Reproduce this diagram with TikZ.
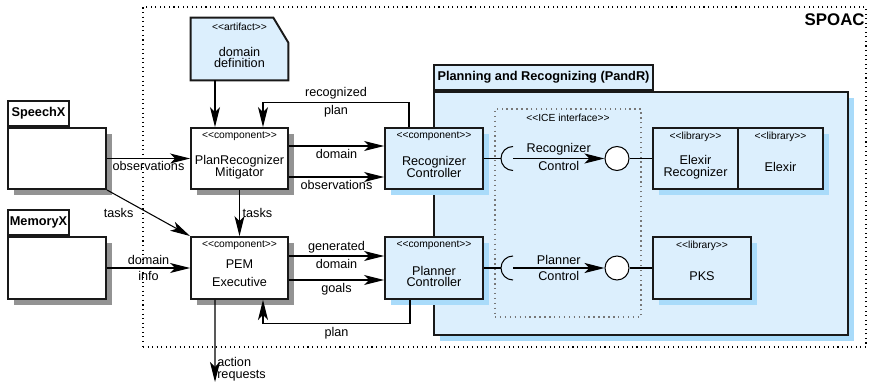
\documentclass[tikz,border=0pt]{standalone}
\usepackage{fontspec}
\setmainfont{Liberation Sans}
\usepackage{tikz}
\usetikzlibrary{arrows.meta, positioning, calc}
\usepackage{xcolor}
\definecolor{uiblue}{HTML}{DCEFFD}
\definecolor{uishadow}{HTML}{A9DBFA}
\definecolor{pkggray}{HTML}{939393}
\definecolor{dotgray}{HTML}{777777}
\def\ltlt{<\kern0pt<}
\def\gtgt{>\kern0pt>}

\begin{document}
\begin{tikzpicture}[
  font=\fontsize{7.2}{6.8}\selectfont,
  box/.style={rectangle, draw=black!90, line width=1.1pt, inner sep=0pt,
              minimum width=1.96cm, minimum height=1.22cm},
  greybox/.style={box, fill=white},
  bluebox/.style={box, fill=uiblue},
  % offset copies behind the boxes (6px down and right)
  shadowgrey/.style={rectangle, fill=pkggray, inner sep=0pt,
                     minimum width=1.96cm, minimum height=1.22cm},
  shadowblue/.style={shadowgrey, fill=uishadow},
  tabbox/.style={rectangle, draw=black!90, line width=1.1pt, inner sep=0pt,
                 anchor=south west, minimum height=0.5cm,
                 font=\fontsize{7.26}{8}\selectfont\bfseries},
  stereo/.style={inner sep=0pt, font=\fontsize{5.85}{6}\selectfont},
  boxtext/.style={inner sep=0pt, align=center},
  iface/.style={circle, draw, line width=0.6pt, fill=white,
                minimum size=0.48cm, inner sep=0pt},
  wire/.style={line width=0.6pt},
  arr/.style={-{Stealth[length=0.4cm, width=0.2cm, inset=0.1cm]}, line width=0.6pt},
  lbl/.style={inner sep=1.5pt}
]
\useasboundingbox (0,0) rectangle (17.4,7.64);

% === SPOAC frame ===
\node[rectangle, draw, dotted, line width=0.6pt, minimum width=14.46cm,
      minimum height=6.80cm] (spoac) at (10.09, 4.10) {};
\node[inner sep=0pt, anchor=east, font=\fontsize{9.6}{10}\selectfont\bfseries]
  (spoacLbl) at (17.30, 7.24) {SPOAC};

% === PandR package ===
\node[shadowblue, minimum width=8.28cm, minimum height=4.86cm] (PandRsh) at (12.94, 3.25) {};
\node[bluebox, minimum width=8.28cm, minimum height=4.86cm] (PandR) at (12.82, 3.37) {};
\node[tabbox, fill=uiblue, minimum width=4.38cm] (PandRtab) at (PandR.north west)
  {Planning and Recognizing (PandR)};

% ICE interface frame
\node[rectangle, draw=dotgray, dotted, line width=0.8pt, minimum width=2.92cm,
      minimum height=4.16cm] (ICE) at (11.36, 3.38) {};
\node[stereo] (ICElbl) at ([yshift=-0.2cm]ICE.north) {\ltlt ICE interface\gtgt};

% === Artifact: domain definition ===
\node[minimum width=1.94cm, minimum height=1.24cm, inner sep=0pt] (dd) at (4.79, 6.66) {};
\draw[line width=1.1pt, draw=black!90, fill=uiblue]
  (dd.south west) -- (dd.north west) -- ([xshift=-0.3cm]dd.north east)
  -- ([yshift=-0.5cm]dd.north east) -- (dd.south east) -- cycle;
\node[stereo] (ddS) at ([yshift=-0.19cm]dd.north) {\ltlt artifact\gtgt};
\node[boxtext] (ddN) at ([yshift=-0.17cm]dd.center) {domain\\definition};

% === External packages ===
\node[shadowgrey] (SpeechXsh) at (1.26, 4.35) {};
\node[greybox] (SpeechX) at (1.14, 4.47) {};
\node[tabbox, fill=white, minimum width=1.22cm] (SpeechXtab) at (SpeechX.north west) {SpeechX};

\node[shadowgrey, minimum height=1.24cm] (MemoryXsh) at (1.26, 2.16) {};
\node[greybox, minimum height=1.24cm] (MemoryX) at (1.14, 2.28) {};
\node[tabbox, fill=white, minimum width=1.22cm] (MemoryXtab) at (MemoryX.north west) {MemoryX};

% === Components ===
\node[shadowgrey, minimum width=1.94cm] (PRMsh) at (4.91, 4.35) {};
\node[greybox, minimum width=1.94cm] (PRM) at (4.79, 4.47) {};
\node[stereo] (PRMs) at ([yshift=-0.19cm]PRM.north) {\ltlt component\gtgt};
\node[boxtext] (PRMn) at ([yshift=-0.17cm]PRM.center) {PlanRecognizer\\Mitigator};

\node[shadowgrey, minimum width=1.94cm, minimum height=1.24cm] (PEMsh) at (4.91, 2.16) {};
\node[greybox, minimum width=1.94cm, minimum height=1.24cm] (PEM) at (4.79, 2.28) {};
\node[stereo] (PEMs) at ([yshift=-0.19cm]PEM.north) {\ltlt component\gtgt};
\node[boxtext] (PEMn) at ([yshift=-0.10cm]PEM.center) {PEM\\[3.4pt]Executive};

\node[shadowblue] (RCsh) at (8.80, 4.35) {};
\node[bluebox] (RC) at (8.68, 4.47) {};
\node[stereo] (RCs) at ([yshift=-0.19cm]RC.north) {\ltlt component\gtgt};
\node[boxtext] (RCn) at ([yshift=-0.17cm]RC.center) {Recognizer\\Controller};

\node[shadowblue, minimum height=1.24cm] (PCsh) at (8.80, 2.16) {};
\node[bluebox, minimum height=1.24cm] (PC) at (8.68, 2.28) {};
\node[stereo] (PCs) at ([yshift=-0.19cm]PC.north) {\ltlt component\gtgt};
\node[boxtext] (PCn) at ([yshift=-0.17cm]PC.center) {Planner\\Controller};

% === Libraries ===
\node[shadowblue, minimum width=3.40cm] (Elexirsh) at (14.88, 4.35) {};
\node[bluebox, minimum width=1.70cm] (ElexirRec) at (13.91, 4.47) {};
\node[bluebox, minimum width=1.70cm] (Elexir) at (15.61, 4.47) {};
\node[stereo] (ElexirRecS) at ([yshift=-0.19cm]ElexirRec.north) {\ltlt library\gtgt};
\node[boxtext] (ElexirRecN) at ([yshift=-0.17cm]ElexirRec.center) {Elexir\\Recognizer};
\node[stereo] (ElexirS) at ([yshift=-0.19cm]Elexir.north) {\ltlt library\gtgt};
\node[boxtext] (ElexirN) at ([yshift=-0.17cm]Elexir.center) {Elexir};

\node[shadowblue, minimum height=1.24cm] (PKSsh) at (14.16, 2.16) {};
\node[bluebox, minimum height=1.24cm] (PKS) at (14.04, 2.28) {};
\node[stereo] (PKSs) at ([yshift=-0.19cm]PKS.north) {\ltlt library\gtgt};
\node[boxtext] (PKSn) at ([yshift=-0.16cm]PKS.center) {PKS};

% === Provided / required interfaces ===
\node[iface] (recIf) at (12.34, 4.47) {};
\node[iface] (planIf) at (12.34, 2.28) {};
\coordinate (recSock) at (10.26, 4.47);
\coordinate (planSock) at (10.26, 2.28);

\draw[wire] (RC.east) -- ([xshift=-0.24cm]recSock);
\draw[wire] ([yshift=0.24cm]recSock) arc[start angle=90, end angle=270, radius=0.24cm];
\draw[arr] (recSock) -- (recIf.west)
  node[midway, above, lbl] {Recognizer} node[midway, below, lbl] {Control};
\draw[wire] (recIf.east) -- (ElexirRec.west);

\draw[wire] (PC.east) -- ([xshift=-0.24cm]planSock);
\draw[wire] ([yshift=0.24cm]planSock) arc[start angle=90, end angle=270, radius=0.24cm];
\draw[arr] (planSock) -- (planIf.west)
  node[midway, above, lbl] {Planner} node[midway, below, lbl] {Control};
\draw[wire] (planIf.east) -- (PKS.west);

% === Data flow ===
\draw[arr] ([xshift=-0.49cm]dd.south) -- ([xshift=-0.49cm]PRM.north);

\draw[arr] (SpeechX.east) -- (PRM.west)
  node[midway, below, lbl] {observations};
\draw[arr] (SpeechX.south east) -- (PEM.north west)
  node[midway, left=5pt] {tasks};
\draw[arr] (MemoryX.east) -- (PEM.west)
  node[midway, above, lbl] {domain} node[midway, below, lbl] {info};
\draw[arr] (PRM.south) -- (PEM.north)
  node[midway, right, lbl] {tasks};

\draw[arr] ([yshift=0.25cm]PRM.east) -- ([yshift=0.25cm]RC.west)
  node[midway, below, lbl] {domain};
\draw[arr] ([yshift=-0.37cm]PRM.east) -- ([yshift=-0.37cm]RC.west)
  node[midway, below, lbl] {observations};
\draw[arr] ([xshift=-0.5cm]RC.north) -- ++(0,0.5)
  -| node[pos=0.25, above, lbl] {recognized} node[pos=0.25, below, lbl] {plan}
  ([xshift=0.47cm]PRM.north);

\draw[arr] ([yshift=0.24cm]PEM.east) -- ([yshift=0.24cm]PC.west)
  node[midway, above, lbl] {generated} node[midway, below, lbl] {domain};
\draw[arr] ([yshift=-0.24cm]PEM.east) -- ([yshift=-0.24cm]PC.west)
  node[midway, below, lbl] {goals};
\draw[arr] ([xshift=-0.48cm]PC.south) -- ++(0,-0.48)
  -| node[pos=0.25, below, lbl] {plan}
  ([xshift=0.47cm]PEM.south);

\coordinate (actEnd) at (4.30, 0.0);
\draw[arr] ([xshift=-0.49cm]PEM.south) -- (actEnd)
  node[pos=0.84, right, align=left, inner sep=1pt] {action\\requests};

\end{tikzpicture}
\end{document}
